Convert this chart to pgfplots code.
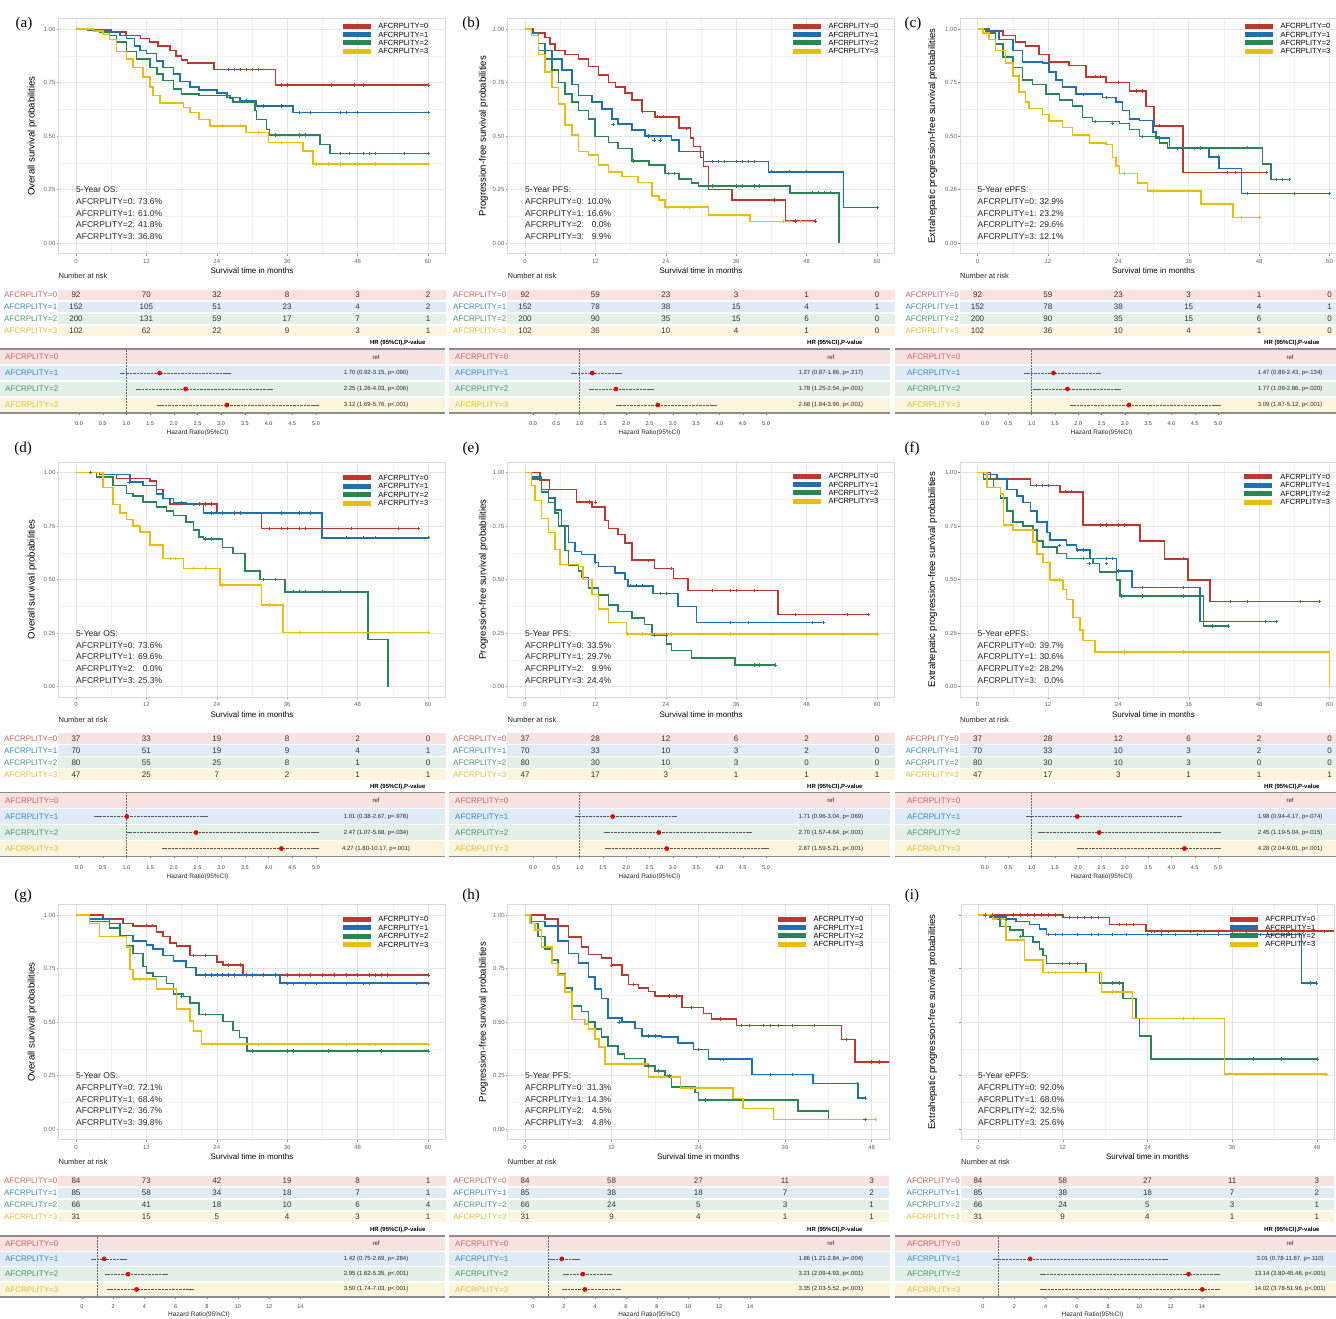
\documentclass[border=0pt]{standalone}
\usepackage{pgfplots}
\pgfplotsset{compat=1.18}
\usepackage{fontspec}
\setmainfont{Liberation Sans}
\newfontfamily\seriffont{Liberation Serif}

\definecolor{cR}{RGB}{190,55,45}
\definecolor{cB}{RGB}{30,112,178}
\definecolor{cG}{RGB}{42,133,84}
\definecolor{cY}{RGB}{232,190,10}
\definecolor{bR}{RGB}{249,226,226}
\definecolor{bB}{RGB}{223,235,245}
\definecolor{bG}{RGB}{227,239,231}
\definecolor{bY}{RGB}{252,245,221}
\definecolor{lR}{RGB}{205,95,95}
\definecolor{lB}{RGB}{55,135,190}
\definecolor{lG}{RGB}{70,148,112}
\definecolor{lY}{RGB}{228,188,45}

\pgfplotsset{
 km/.style={
   scale only axis, anchor=south west, height=235.4pt, width=387.2pt,
   xmin=-3, xmax=63, ymin=-0.05, ymax=1.05,
   xtick={0,12,24,36,48,60}, minor xtick={6,18,30,42,54},
   ytick={0,0.25,0.5,0.75,1}, yticklabels={0.00,0.25,0.50,0.75,1.00},
   minor ytick={0.125,0.375,0.625,0.875},
   grid=both, major grid style={black!10, line width=0.45pt}, minor grid style={black!5, line width=0.3pt},
   axis line style={black!15, line width=0.5pt},
   tick align=outside, major tick length=1.8pt, minor tick length=0pt,
   tick style={black!45, line width=0.4pt},
   xtick pos=bottom, ytick pos=left,
   ticklabel style={font=\fontsize{6}{6}\selectfont, text=black!60},
   yticklabel style={inner sep=1pt},
   /pgf/number format/assume math mode=true,
   xlabel={Survival time in months},
   xlabel style={font=\fontsize{8}{8}\selectfont, at={(axis description cs:0.5,0)}, anchor=center, yshift=-17pt},
   ylabel style={font=\fontsize{9.6}{9.6}\selectfont, anchor=center},
   legend cell align=left,
   legend style={draw=none, fill=none, font=\fontsize{7.5}{7.5}\selectfont, inner sep=0pt, row sep=1.2pt,
      nodes={inner sep=0.6pt, text height=5.5pt, text depth=0.5pt}, anchor=north west},
   legend image code/.code={\draw[##1, line width=5pt] (0pt,0pt) -- (28pt,0pt); \path (34.4pt,0pt);},
 },
 risk/.style={scale only axis, anchor=north west, height=48pt, ymin=-0.5, ymax=3.5, xtick=\empty, ytick={0,1,2,3},
   yticklabels={{\textcolor{lY}{AFCRPLITY=3}},{\textcolor{lG}{AFCRPLITY=2}},{\textcolor{lB}{AFCRPLITY=1}},{\textcolor{lR}{AFCRPLITY=0}}},
   axis line style={draw=none}, major tick length=0pt, tick style={draw=none},
   yticklabel style={font=\fontsize{8}{8}\selectfont, inner sep=1pt},
   clip=false, title={Number at risk},
   title style={at={(rel axis cs:0,1)}, anchor=south west, inner sep=0pt, yshift=4pt, font=\fontsize{7.5}{7.5}\selectfont, text=black!85}},
 forest/.style={scale only axis, anchor=north west, height=64pt, ymin=-0.5, ymax=3.5, ytick=\empty,
   axis line style={draw=none}, tick align=outside, xtick pos=bottom, major tick length=1.5pt,
   tick style={black!50, line width=0.4pt},
   xticklabel style={font=\fontsize{5.5}{5.5}\selectfont, text=black!75, yshift=-4pt},
   clip=false, /pgf/number format/assume math mode=true},
 fa/.style={xtick={0,0.5,1,1.5,2,2.5,3,3.5,4,4.5,5},
   xticklabel style={/pgf/number format/fixed, /pgf/number format/fixed zerofill, /pgf/number format/precision=1}},
 fb/.style={xtick={0,2,4,6,8,10,12,14}, height=61pt, xticklabel style={yshift=1.5pt}},
}

\newcommand{\kl}[2]{\addplot[const plot, #1, line width=1.6pt] coordinates {#2};}
\newcommand{\cz}[2]{\addplot[only marks, mark=+, mark size=1.7pt, line width=0.55pt, #1, forget plot] coordinates {#2};}
\newcommand{\annot}[5]{\node[anchor=north west, inner sep=0pt, align=left, font=\fontsize{8.5}{11.7}\selectfont, text=black!85] at (axis cs:0,0.263) {#1\\AFCRPLITY=0: #2\\AFCRPLITY=1: #3\\AFCRPLITY=2: #4\\AFCRPLITY=3: #5};}
\newcommand{\legs}{\addlegendentry{AFCRPLITY=0}\addlegendentry{AFCRPLITY=1}\addlegendentry{AFCRPLITY=2}\addlegendentry{AFCRPLITY=3}}

\newcommand{\risk}[6]{%
\begin{axis}[risk, at={(#1pt,-#2pt)}, width=#3pt, xmin=#4, xmax=#5]
\fill[bR] (rel axis cs:0,0.7625) rectangle (rel axis cs:1,0.9875);
\fill[bB] (rel axis cs:0,0.5125) rectangle (rel axis cs:1,0.7375);
\fill[bG] (rel axis cs:0,0.2625) rectangle (rel axis cs:1,0.4875);
\fill[bY] (rel axis cs:0,0.0125) rectangle (rel axis cs:1,0.2375);
\addplot[only marks, mark size=0pt, mark options={draw=none,fill=none}, nodes near coords, point meta=explicit symbolic,
  nodes near coords align={anchor=center}, every node near coord/.append style={font=\fontsize{8}{8}\selectfont, text=black!80, inner sep=0pt}]
  table[row sep=\\, meta=n] {x y n\\ #6};
\end{axis}}

\newcommand{\fframe}[1]{%
\fill[bR] (rel axis cs:0,0.7625) rectangle (rel axis cs:1,0.9875);
\fill[bB] (rel axis cs:0,0.5125) rectangle (rel axis cs:1,0.7375);
\fill[bG] (rel axis cs:0,0.2625) rectangle (rel axis cs:1,0.4875);
\fill[bY] (rel axis cs:0,0.0125) rectangle (rel axis cs:1,0.2375);
\draw[black!45, line width=1.1pt] (rel axis cs:0,1) -- (rel axis cs:1,1);
\draw[black!45, line width=1.1pt] (rel axis cs:0,0) -- (rel axis cs:1,0);
\draw[black!60, densely dotted, line width=0.5pt] (axis cs:1,-0.5) -- (axis cs:1,3.5);
\node[anchor=west, text=lR, font=\fontsize{8}{8}\selectfont, inner sep=0pt] at (rel axis cs:#1,0.875) {AFCRPLITY=0};
\node[anchor=west, text=lB, font=\fontsize{8}{8}\selectfont, inner sep=0pt] at (rel axis cs:#1,0.625) {AFCRPLITY=1};
\node[anchor=west, text=lG, font=\fontsize{8}{8}\selectfont, inner sep=0pt] at (rel axis cs:#1,0.375) {AFCRPLITY=2};
\node[anchor=west, text=lY, font=\fontsize{8}{8}\selectfont, inner sep=0pt] at (rel axis cs:#1,0.125) {AFCRPLITY=3};}

\newcommand{\hrtxt}[5]{%
\node[font=\fontsize{6}{6}\selectfont, text=black!85] at (rel axis cs:#1,0.875) {ref};
\node[font=\fontsize{6}{6}\selectfont, text=black!85] at (rel axis cs:#1,0.625) {#3};
\node[font=\fontsize{6}{6}\selectfont, text=black!85] at (rel axis cs:#1,0.375) {#4};
\node[font=\fontsize{6}{6}\selectfont, text=black!85] at (rel axis cs:#1,0.125) {#5};
\node[font=\bfseries\fontsize{6}{6}\selectfont, anchor=base, inner sep=0pt, yshift=4.5pt] at (rel axis cs:#2,1) {HR (95\%CI),P-value};}

\newcommand{\hrplot}[1]{\addplot[only marks, mark=*, mark size=2.1pt, color=red!85!black, error bars/.cd, x dir=both, x explicit,
  error bar style={densely dotted, black!65, line width=0.55pt}, error mark options={solid, black!65, mark size=2.6pt, line width=0.55pt}] coordinates {#1};}

\newcommand{\hrlab}[2]{\node[font=\fontsize{6.5}{6.5}\selectfont, text=black!85, yshift=#2pt] at (axis cs:#1,-0.5) {Hazard Ratio(95\%CI)};}

\begin{document}
\begin{tikzpicture}
\useasboundingbox (0pt,0pt) rectangle (1336pt,-1319pt);

% panel labels
\node[font=\seriffont\fontsize{15}{15}\selectfont, anchor=base] at (24pt,-28pt) {(a)};
\node[font=\seriffont\fontsize{15}{15}\selectfont, anchor=base] at (471pt,-28pt) {(b)};
\node[font=\seriffont\fontsize{15}{15}\selectfont, anchor=base] at (913pt,-28pt) {(c)};
\node[font=\seriffont\fontsize{15}{15}\selectfont, anchor=base] at (23pt,-452pt) {(d)};
\node[font=\seriffont\fontsize{15}{15}\selectfont, anchor=base] at (471pt,-452pt) {(e)};
\node[font=\seriffont\fontsize{15}{15}\selectfont, anchor=base] at (912pt,-452pt) {(f)};
\node[font=\seriffont\fontsize{15}{15}\selectfont, anchor=base] at (23pt,-899pt) {(g)};
\node[font=\seriffont\fontsize{15}{15}\selectfont, anchor=base] at (471pt,-899pt) {(h)};
\node[font=\seriffont\fontsize{15}{15}\selectfont, anchor=base] at (912pt,-899pt) {(i)};

%================ (a) ================
\begin{axis}[km, at={(58.4pt,-253.7pt)}, ylabel={Overall survival probabilities}, ylabel style={at={(axis description cs:-0.068,0.5)}}, legend style={at={(0.727,0.983)}}]
\kl{cR}{(0,1)(3,0.995)(6,0.985)(8.5,0.97)(11,0.955)(12.5,0.94)(14,0.92)(16,0.90)(17,0.875)(18,0.855)(19,0.84)(23.5,0.81)(34,0.738)(60,0.738)}
\kl{cB}{(0,1)(3,0.995)(5.7,0.985)(7.5,0.97)(8.6,0.955)(10,0.92)(10.9,0.90)(12,0.885)(13.7,0.85)(14.8,0.82)(16.6,0.79)(17.7,0.755)(19.4,0.73)(21,0.715)(24,0.70)(25.7,0.68)(28,0.665)(30.8,0.64)(37,0.61)(60,0.61)}
\kl{cG}{(0,1)(2,0.995)(4,0.985)(5.7,0.97)(6.9,0.94)(8.6,0.895)(10.3,0.86)(12.6,0.82)(13.8,0.79)(14.8,0.76)(16.6,0.72)(18,0.695)(21,0.69)(26.2,0.676)(26.8,0.66)(30.5,0.62)(30.8,0.578)(32.5,0.53)(33,0.505)(41.6,0.46)(43.3,0.419)(60,0.419)}
\kl{cY}{(0,1)(3,0.99)(4.6,0.975)(5.7,0.95)(6.9,0.895)(8.6,0.86)(9.7,0.82)(11.4,0.775)(12.6,0.73)(13.1,0.69)(14.3,0.653)(18.3,0.634)(19.4,0.61)(21,0.578)(22.8,0.548)(29,0.516)(32.8,0.469)(38.7,0.43)(40.4,0.37)(60,0.37)}
\legs
\cz{cR}{(26,0.81)(27,0.81)(28,0.81)(29,0.81)(30,0.81)(31,0.81)(35,0.738)(36,0.738)(43.5,0.738)(47.5,0.738)(49,0.738)(60,0.738)}
\cz{cB}{(29,0.665)(32,0.64)(35,0.64)(38,0.61)(40,0.61)(45,0.61)(46,0.61)(48,0.61)(60,0.61)}
\cz{cG}{(34,0.505)(38,0.505)(39,0.505)(45,0.419)(46.5,0.419)(49,0.419)(50,0.419)(51,0.419)(56,0.419)(60,0.419)}
\cz{cY}{(25,0.548)(28,0.548)(31,0.516)(35,0.469)(41,0.37)(43,0.37)(45,0.37)(48,0.37)(51,0.37)(60,0.37)}
\annot{5-Year OS:}{73.6\%}{61.0\%}{41.8\%}{36.8\%}
\end{axis}
\risk{58.4}{289}{387.2}{-3}{63}{0 3 92\\12 3 70\\24 3 32\\36 3 8\\48 3 3\\60 3 2\\0 2 152\\12 2 105\\24 2 51\\36 2 23\\48 2 4\\60 2 2\\0 1 200\\12 1 131\\24 1 59\\36 1 17\\48 1 7\\60 1 1\\0 0 102\\12 0 62\\24 0 22\\36 0 9\\48 0 3\\60 0 1\\}
\begin{axis}[forest, fa, at={(0pt,-349pt)}, width=445pt, xmin=-1.667, xmax=7.722]
\fframe{0.011}
\hrplot{(1.70,2) += (1.45,0) -= (0.78,0) (2.25,1) += (1.78,0) -= (0.99,0) (3.12,0) += (1.88,0) -= (1.43,0)}
\hrtxt{0.845}{0.894}{1.70 (0.92-3.15, p=.090)}{2.25 (1.26-4.03, p=.006)}{3.12 (1.69-5.76, p<.001)}
\hrlab{2.5}{-20}
\end{axis}

%================ (b) ================
\begin{axis}[km, at={(507.4pt,-253.7pt)}, ylabel={Progression-free survival probabilities}, ylabel style={at={(axis description cs:-0.062,0.5)}}, legend style={at={(0.730,0.983)}}]
\kl{cR}{(0,1)(1.4,0.98)(3.4,0.96)(4.3,0.93)(5.1,0.90)(6.8,0.88)(9.1,0.86)(10.8,0.824)(12.5,0.785)(14.2,0.75)(15.4,0.73)(17,0.70)(18.2,0.668)(19.9,0.614)(22.2,0.59)(26.2,0.536)(28.2,0.49)(28.7,0.45)(29.9,0.40)(30.4,0.357)(31.3,0.25)(35.3,0.20)(44.4,0.103)(49.5,0.103)}
\kl{cB}{(0,1)(1.1,0.98)(2.3,0.933)(3.4,0.90)(4.6,0.86)(6.3,0.808)(8,0.74)(9.1,0.69)(11.4,0.66)(13.1,0.625)(14.8,0.58)(15.9,0.555)(18.2,0.528)(20.5,0.50)(25,0.481)(26.2,0.427)(30.4,0.38)(41.5,0.333)(54.3,0.166)(60,0.166)}
\kl{cG}{(0,1)(1.1,0.97)(2.3,0.90)(3.4,0.86)(4.6,0.808)(5.7,0.75)(6.8,0.695)(8,0.66)(9.1,0.62)(10.8,0.58)(11.9,0.497)(14.2,0.47)(15.9,0.442)(18.2,0.383)(21.1,0.364)(23.9,0.325)(26.2,0.30)(28.4,0.28)(29.6,0.266)(45.2,0.235)(53.5,0)}
\kl{cY}{(0,1)(1.1,0.97)(2.3,0.88)(3.4,0.80)(4.6,0.727)(5.7,0.65)(6.8,0.55)(8,0.505)(9.1,0.427)(10.8,0.41)(12.5,0.364)(14.2,0.333)(16.5,0.31)(19.3,0.282)(21.6,0.22)(22.8,0.20)(23.9,0.167)(31.3,0.131)(38.4,0.10)(49.5,0.10)}
\legs
\cz{cR}{(20,0.614)(22.5,0.59)(23.5,0.59)(27.5,0.536)(42.5,0.2)(46,0.103)(49.5,0.103)}
\cz{cB}{(15,0.555)(21,0.50)(22,0.481)(23,0.481)(32,0.38)(33,0.38)(34,0.38)(36,0.38)(37,0.38)(38,0.38)(39,0.38)(42,0.333)(45,0.333)(48,0.333)(60,0.166)}
\cz{cG}{(18.5,0.383)(24.5,0.325)(25.5,0.325)(32,0.266)(36,0.266)(37,0.266)(39,0.266)(40,0.266)(49,0.235)(50,0.235)(51,0.235)(52,0.235)}
\cz{cY}{(24.5,0.167)(27,0.167)(28,0.167)(44,0.10)(45,0.10)(47,0.10)}
\annot{5-Year PFS:}{10.0\%}{16.6\%}{\phantom{0}0.0\%}{\phantom{0}9.9\%}
\end{axis}
\risk{507.4}{289}{387.2}{-3}{63}{0 3 92\\12 3 59\\24 3 23\\36 3 3\\48 3 1\\60 3 0\\0 2 152\\12 2 78\\24 2 38\\36 2 15\\48 2 4\\60 2 1\\0 1 200\\12 1 90\\24 1 35\\36 1 15\\48 1 6\\60 1 0\\0 0 102\\12 0 36\\24 0 10\\36 0 4\\48 0 1\\60 0 0\\}
\begin{axis}[forest, fa, at={(449pt,-349pt)}, width=441pt, xmin=-1.803, xmax=7.661]
\fframe{0.0136}
\hrplot{(1.27,2) += (0.59,0) -= (0.40,0) (1.78,1) += (0.76,0) -= (0.53,0) (2.68,0) += (1.22,0) -= (0.84,0)}
\hrtxt{0.866}{0.875}{1.27 (0.87-1.86, p=.217)}{1.78 (1.25-2.54, p=.001)}{2.68 (1.84-3.90, p<.001)}
\hrlab{2.5}{-20}
\end{axis}

%================ (c) ================
\begin{axis}[km, at={(959.9pt,-253.7pt)}, ylabel={Extrahepatic progression-free survival probabilities}, ylabel style={at={(axis description cs:-0.0702,0.5)}}, legend style={at={(0.7286,0.983)}}]
\kl{cR}{(0,1)(2,0.99)(4.3,0.97)(6.5,0.94)(8.2,0.92)(10.5,0.88)(12.2,0.847)(15.6,0.83)(18.5,0.777)(21.9,0.75)(25.9,0.71)(28.7,0.637)(30.1,0.548)(35,0.329)(49.2,0.329)}
\kl{cB}{(0,1)(1.4,0.99)(3.7,0.95)(6,0.90)(7.7,0.847)(11.1,0.84)(12.2,0.80)(13.4,0.762)(14.5,0.73)(16.8,0.695)(21.3,0.68)(23.6,0.66)(24.7,0.62)(25.9,0.58)(27.6,0.572)(29.9,0.52)(30.4,0.49)(32.7,0.442)(39.5,0.403)(41.2,0.349)(45,0.232)(60,0.232)}
\kl{cG}{(0,1)(1.4,0.98)(3.1,0.93)(4.3,0.87)(6,0.82)(7.7,0.762)(9.4,0.74)(11.7,0.695)(14,0.668)(16.2,0.64)(17.9,0.587)(19.6,0.567)(24.2,0.559)(25.9,0.53)(27.6,0.497)(31,0.466)(32.4,0.445)(48.6,0.369)(50,0.297)(53.2,0.297)}
\kl{cY}{(0,1)(0.9,0.98)(2,0.95)(3.1,0.90)(4.8,0.84)(6,0.78)(7.1,0.707)(8.2,0.66)(8.8,0.629)(11.1,0.60)(12.2,0.57)(14.5,0.54)(16.2,0.505)(19.1,0.466)(21.9,0.46)(23,0.40)(23.6,0.36)(24.2,0.325)(27.3,0.28)(29,0.243)(38.1,0.182)(43.5,0.12)(48.1,0.12)}
\legs
\cz{cR}{(20,0.777)(21,0.777)(24,0.75)(27,0.71)(28,0.71)(31,0.548)(42.5,0.329)(44,0.329)(49.2,0.329)}
\cz{cB}{(12,0.84)(18,0.695)(22,0.68)(34,0.442)(35,0.442)(37,0.442)(38,0.442)(41,0.403)(46,0.232)(54,0.232)(60,0.232)}
\cz{cG}{(20,0.567)(23,0.559)(28,0.497)(38,0.445)(46,0.445)(51,0.297)(52,0.297)(53.2,0.297)}
\cz{cY}{(25,0.325)(30,0.243)(45,0.12)(48.1,0.12)}
\annot{5-Year ePFS:}{32.9\%}{23.2\%}{29.6\%}{12.1\%}
\end{axis}
\risk{959.9}{289}{387.2}{-3}{63}{0 3 92\\12 3 59\\24 3 23\\36 3 3\\48 3 1\\60 3 0\\0 2 152\\12 2 78\\24 2 38\\36 2 15\\48 2 4\\60 2 1\\0 1 200\\12 1 90\\24 1 35\\36 1 15\\48 1 6\\60 1 0\\0 0 102\\12 0 36\\24 0 10\\36 0 4\\48 0 1\\60 0 0\\}
\begin{axis}[forest, fa, at={(895pt,-349pt)}, width=441pt, xmin=-1.931, xmax=7.532]
\fframe{0.027}
\hrplot{(1.47,2) += (0.96,0) -= (0.58,0) (1.77,1) += (1.09,0) -= (0.68,0) (3.09,0) += (1.91,0) -= (1.22,0)}
\hrtxt{0.896}{0.900}{1.47 (0.89-2.43, p=.134)}{1.77 (1.09-2.86, p=.020)}{3.09 (1.87-5.12, p<.001)}
\hrlab{2.5}{-20}
\end{axis}

%================ (d) ================
\begin{axis}[km, at={(58.4pt,-697.2pt)}, ylabel={Overall survival probabilities}, ylabel style={at={(axis description cs:-0.068,0.5)}}, legend style={at={(0.727,0.948)}}]
\kl{cR}{(0,1)(4,0.99)(6.9,0.972)(12.6,0.96)(13.7,0.92)(14.8,0.879)(16,0.852)(24,0.81)(31.6,0.739)(58.4,0.739)}
\kl{cB}{(0,1)(4.6,0.99)(9.2,0.956)(11.4,0.94)(13.7,0.90)(14.8,0.879)(16.6,0.86)(18.8,0.85)(21.7,0.81)(41.9,0.695)(60,0.695)}
\kl{cG}{(0,1)(3.5,0.98)(6.3,0.94)(8.6,0.902)(9.7,0.89)(11.4,0.863)(13.7,0.84)(15.4,0.82)(16.6,0.80)(18.8,0.77)(20,0.73)(21,0.70)(21.7,0.689)(25,0.65)(26.8,0.622)(28.8,0.54)(31.4,0.50)(35.6,0.443)(49.8,0.22)(53.2,0)}
\kl{cY}{(0,1)(4.6,0.93)(6.3,0.85)(7.5,0.81)(8.6,0.78)(9.7,0.75)(10.9,0.723)(12.6,0.661)(14.8,0.599)(18.3,0.552)(24.5,0.474)(31.6,0.381)(35.3,0.253)(60,0.253)}
\legs
\cz{cR}{(21,0.852)(22,0.852)(23,0.852)(25,0.81)(27,0.81)(33,0.739)(35,0.739)(36,0.739)(38,0.739)(39,0.739)(47,0.739)(55,0.739)(58.4,0.739)}
\cz{cB}{(2.5,1)(9,0.956)(18,0.86)(20,0.85)(23,0.81)(25,0.81)(28,0.81)(35,0.81)(38,0.81)(40,0.81)(46,0.695)(49,0.695)(51,0.695)(60,0.695)}
\cz{cG}{(22,0.689)(23,0.689)(32,0.50)(34,0.50)(37,0.443)(38,0.443)(39,0.443)(42,0.443)(45,0.443)}
\cz{cY}{(16,0.599)(17,0.599)(20,0.552)(22,0.552)(25,0.474)(33,0.381)(38,0.253)(60,0.253)}
\annot{5-Year OS:}{73.6\%}{69.6\%}{\phantom{0}0.0\%}{25.3\%}
\end{axis}
\risk{58.4}{732.5}{387.2}{-3}{63}{0 3 37\\12 3 33\\24 3 19\\36 3 8\\48 3 2\\60 3 0\\0 2 70\\12 2 51\\24 2 19\\36 2 9\\48 2 4\\60 2 1\\0 1 80\\12 1 55\\24 1 25\\36 1 8\\48 1 1\\60 1 0\\0 0 47\\12 0 25\\24 0 7\\36 0 2\\48 0 1\\60 0 1\\}
\begin{axis}[forest, fa, at={(0pt,-792.5pt)}, width=445pt, xmin=-1.667, xmax=7.722]
\fframe{0.011}
\hrplot{(1.01,2) += (1.66,0) -= (0.63,0) (2.47,1) += (2.53,0) -= (1.40,0) (4.27,0) += (0.73,0) -= (2.47,0)}
\hrtxt{0.845}{0.894}{1.01 (0.38-2.67, p=.978)}{2.47 (1.07-5.68, p=.034)}{4.27 (1.80-10.17, p=.001)}
\hrlab{2.5}{-20}
\end{axis}

%================ (e) ================
\begin{axis}[km, at={(507.4pt,-697.2pt)}, ylabel={Progression-free survival probabilities}, ylabel style={at={(axis description cs:-0.062,0.5)}}, legend style={at={(0.730,0.955)}}]
\kl{cR}{(0,1)(2.6,0.964)(4.2,0.92)(8.8,0.862)(11.4,0.84)(13.6,0.776)(14.2,0.738)(15.9,0.71)(17,0.67)(18.2,0.59)(22.1,0.552)(25.3,0.505)(27.8,0.448)(43.1,0.336)(58.5,0.336)}
\kl{cB}{(0,1)(1.1,0.98)(2.8,0.92)(4,0.88)(5.1,0.824)(6.2,0.75)(7.4,0.672)(8.5,0.63)(9.6,0.617)(11.9,0.58)(12.5,0.56)(15.3,0.53)(17,0.50)(17.6,0.471)(21.8,0.435)(26.1,0.373)(29.2,0.30)(50.8,0.30)}
\kl{cG}{(0,1)(1.1,0.97)(2.8,0.91)(4,0.86)(5.1,0.81)(5.7,0.75)(6.8,0.636)(7.4,0.566)(9.1,0.54)(9.6,0.51)(10.8,0.459)(12.5,0.428)(14.2,0.381)(15.9,0.35)(18.2,0.32)(20.4,0.29)(21.6,0.241)(24.1,0.20)(25,0.168)(28.4,0.132)(35.8,0.10)(42.6,0.10)}
\kl{cY}{(0,1)(1.1,0.94)(1.7,0.87)(2.8,0.785)(4,0.72)(5.1,0.64)(6,0.571)(9.1,0.56)(9.9,0.50)(11.4,0.43)(12.5,0.361)(14.2,0.30)(17.3,0.246)(60,0.246)}
\legs
\cz{cR}{(11,0.862)(12,0.862)(21,0.59)(25,0.552)(32,0.448)(35,0.448)(36,0.448)(39,0.448)(46,0.336)(55,0.336)(58.5,0.336)}
\cz{cB}{(12,0.58)(18,0.471)(19,0.471)(20,0.471)(23,0.435)(24,0.435)(35,0.30)(38,0.30)(49,0.30)(50.8,0.30)}
\cz{cG}{(22,0.241)(24,0.241)(39,0.10)(40,0.10)(42.6,0.10)}
\cz{cY}{(17.5,0.246)(20,0.246)(25,0.246)(35,0.246)(60,0.246)}
\annot{5-Year PFS:}{33.5\%}{29.7\%}{\phantom{0}9.9\%}{24.4\%}
\end{axis}
\risk{507.4}{732.5}{387.2}{-3}{63}{0 3 37\\12 3 28\\24 3 12\\36 3 6\\48 3 2\\60 3 0\\0 2 70\\12 2 33\\24 2 10\\36 2 3\\48 2 2\\60 2 0\\0 1 80\\12 1 30\\24 1 10\\36 1 3\\48 1 0\\60 1 0\\0 0 47\\12 0 17\\24 0 3\\36 0 1\\48 0 1\\60 0 1\\}
\begin{axis}[forest, fa, at={(449pt,-792.5pt)}, width=441pt, xmin=-1.803, xmax=7.661]
\fframe{0.0136}
\hrplot{(1.71,2) += (1.33,0) -= (0.75,0) (2.70,1) += (1.94,0) -= (1.13,0) (2.87,0) += (2.13,0) -= (1.28,0)}
\hrtxt{0.866}{0.875}{1.71 (0.96-3.04, p=.069)}{2.70 (1.57-4.64, p<.001)}{2.87 (1.59-5.21, p<.001)}
\hrlab{2.5}{-20}
\end{axis}

%================ (f) ================
\begin{axis}[km, at={(959.9pt,-697.2pt)}, ylabel={Extrahepatic progression-free survival probabilities}, ylabel style={at={(axis description cs:-0.0702,0.5)}}, legend style={at={(0.728,0.952)}}]
\kl{cR}{(0,1)(2.2,0.97)(9,0.94)(14.1,0.91)(18,0.754)(27.7,0.681)(31.9,0.597)(35.9,0.498)(39.6,0.397)(58.3,0.397)}
\kl{cB}{(0,1)(1,0.99)(3.3,0.97)(5,0.92)(6.7,0.89)(7.8,0.86)(9,0.82)(10.1,0.77)(11.8,0.72)(12.4,0.684)(15.2,0.66)(16.9,0.637)(19.2,0.599)(23.7,0.539)(26.3,0.462)(37.9,0.303)(50.9,0.303)}
\kl{cG}{(0,1)(1,0.97)(2.7,0.93)(3.9,0.88)(5,0.82)(6.1,0.77)(7.8,0.75)(9.5,0.73)(10.1,0.68)(11.2,0.653)(13.5,0.622)(15.2,0.599)(19.7,0.575)(20.8,0.536)(23.7,0.498)(24.3,0.423)(38.5,0.283)(42.7,0.283)}
\kl{cY}{(0,1)(1.6,0.93)(3.9,0.90)(4.4,0.754)(6.1,0.73)(9.5,0.676)(10.1,0.62)(11.2,0.58)(12.4,0.498)(14.6,0.454)(15.2,0.407)(16.3,0.322)(17.5,0.264)(18,0.215)(20,0.162)(60,0)}
\legs
\cz{cR}{(10,0.94)(11,0.94)(12,0.94)(15,0.91)(16,0.91)(21,0.754)(22,0.754)(24,0.754)(25,0.754)(35,0.597)(43,0.397)(46,0.397)(55,0.397)(58.3,0.397)}
\cz{cB}{(14,0.66)(17,0.637)(18,0.637)(22,0.599)(23,0.599)(24,0.539)(28,0.462)(35,0.462)(49,0.303)(50.9,0.303)}
\cz{cG}{(18,0.599)(19,0.575)(22,0.575)(24.5,0.423)(28,0.423)(35,0.423)(40,0.283)(42.7,0.283)}
\cz{cY}{(13,0.498)(14,0.498)(25,0.162)(35,0.162)}
\annot{5-Year ePFS:}{39.7\%}{30.6\%}{28.2\%}{\phantom{0}0.0\%}
\end{axis}
\risk{959.9}{732.5}{387.2}{-3}{63}{0 3 37\\12 3 28\\24 3 12\\36 3 6\\48 3 2\\60 3 0\\0 2 70\\12 2 33\\24 2 10\\36 2 3\\48 2 2\\60 2 0\\0 1 80\\12 1 30\\24 1 10\\36 1 3\\48 1 0\\60 1 0\\0 0 47\\12 0 17\\24 0 3\\36 0 1\\48 0 1\\60 0 1\\}
\begin{axis}[forest, fa, at={(895pt,-792.5pt)}, width=441pt, xmin=-1.931, xmax=7.532]
\fframe{0.027}
\hrplot{(1.98,2) += (2.19,0) -= (1.04,0) (2.45,1) += (2.55,0) -= (1.26,0) (4.28,0) += (0.72,0) -= (2.24,0)}
\hrtxt{0.896}{0.900}{1.98 (0.94-4.17, p=.074)}{2.45 (1.19-5.04, p=.015)}{4.28 (2.04-9.01, p<.001)}
\hrlab{2.5}{-20}
\end{axis}

%================ (g) ================
\begin{axis}[km, at={(58.4pt,-1139.7pt)}, ylabel={Overall survival probabilities}, ylabel style={at={(axis description cs:-0.068,0.5)}}, legend style={at={(0.727,0.952)}}]
\kl{cR}{(0,1)(4.6,0.98)(8,0.96)(9.7,0.95)(13.7,0.92)(14.8,0.90)(16,0.87)(17.1,0.855)(19.4,0.81)(24,0.78)(25.1,0.766)(28.5,0.72)(60,0.72)}
\kl{cB}{(0,1)(2.3,0.98)(5.7,0.96)(7.5,0.905)(9.7,0.878)(12,0.86)(13.1,0.84)(14.8,0.81)(16.6,0.785)(18.8,0.754)(20.5,0.72)(34.8,0.681)(60,0.681)}
\kl{cG}{(0,1)(2.3,0.97)(5.7,0.94)(7.5,0.90)(8.6,0.855)(9.7,0.82)(11.4,0.76)(12,0.73)(13.1,0.712)(15.4,0.68)(16.6,0.63)(18.3,0.62)(19.4,0.59)(21,0.536)(25.1,0.503)(26.8,0.46)(27.9,0.427)(29.1,0.364)(60,0.364)}
\kl{cY}{(0,1)(2.3,0.96)(4,0.90)(8.6,0.85)(9.2,0.746)(9.7,0.70)(13.7,0.653)(17.1,0.562)(19.4,0.505)(20,0.458)(21.4,0.396)(60,0.396)}
\legs
\cz{cR}{(12,0.95)(13,0.95)(20,0.81)(22,0.81)(26,0.766)(28,0.766)(29,0.72)(30,0.72)(32,0.72)(36,0.72)(38,0.72)(40,0.72)(42,0.72)(44,0.72)(46,0.72)(48,0.72)(50,0.72)(51,0.72)(52,0.72)(53,0.72)(60,0.72)}
\cz{cB}{(22,0.72)(23,0.72)(24,0.72)(25,0.72)(26,0.72)(27,0.72)(30,0.72)(34,0.72)(36,0.681)(37,0.681)(39,0.681)(41,0.681)(46,0.681)(49,0.681)(50,0.681)(58,0.681)(60,0.681)}
\cz{cG}{(18,0.62)(22,0.536)(30,0.364)(36,0.364)(37,0.364)(43,0.364)(48,0.364)(52,0.364)(60,0.364)}
\cz{cY}{(10,0.70)(11,0.70)(12,0.70)(23,0.396)(24,0.396)(31,0.396)(46,0.396)(50,0.396)(51,0.396)(60,0.396)}
\annot{5-Year OS:}{72.1\%}{68.4\%}{36.7\%}{39.8\%}
\end{axis}
\risk{58.4}{1175}{387.2}{-3}{63}{0 3 84\\12 3 73\\24 3 42\\36 3 19\\48 3 8\\60 3 1\\0 2 85\\12 2 58\\24 2 34\\36 2 18\\48 2 7\\60 2 1\\0 1 66\\12 1 41\\24 1 18\\36 1 10\\48 1 6\\60 1 4\\0 0 31\\12 0 15\\24 0 5\\36 0 4\\48 0 3\\60 0 1\\}
\begin{axis}[forest, fb, at={(0pt,-1236pt)}, width=445pt, xmin=-5.256, xmax=23.27]
\fframe{0.011}
\hrplot{(1.42,2) += (1.27,0) -= (0.67,0) (2.95,1) += (2.40,0) -= (1.33,0) (3.50,0) += (3.53,0) -= (1.76,0)}
\hrtxt{0.845}{0.894}{1.42 (0.75-2.69, p=.284)}{2.95 (1.62-5.35, p<.001)}{3.50 (1.74-7.03, p<.001)}
\hrlab{7.5}{-17.5}
\end{axis}

%================ (h) ================
\begin{axis}[km, at={(507.7pt,-1139.7pt)}, width=381.3pt, xmin=-2.4, xmax=50.4, xtick={0,12,24,36,48}, minor xtick={6,18,30,42},
  ylabel={Progression-free survival probabilities}, ylabel style={at={(axis description cs:-0.064,0.5)}}, legend style={at={(0.701,0.953)}}]
\kl{cR}{(0,1)(2.8,0.98)(4.6,0.95)(6,0.897)(7.8,0.85)(8.8,0.816)(10.6,0.80)(12,0.765)(13.4,0.72)(14.3,0.676)(15.7,0.66)(17.1,0.643)(18,0.621)(21.7,0.567)(24.7,0.54)(25.8,0.515)(29.3,0.484)(43.8,0.419)(45.7,0.313)(50.5,0.313)}
\kl{cB}{(0,1)(0.9,0.97)(2.8,0.95)(4.6,0.878)(6,0.82)(7.4,0.777)(8.8,0.71)(9.7,0.653)(10.6,0.61)(11.5,0.52)(13.4,0.50)(15.2,0.47)(16.2,0.435)(18.9,0.43)(21.2,0.403)(23.3,0.372)(25.4,0.326)(31.4,0.255)(39.9,0.212)(46.1,0.145)(47.1,0.145)}
\kl{cG}{(0,1)(0.9,0.96)(1.8,0.90)(2.8,0.84)(3.7,0.79)(4.6,0.723)(5.5,0.66)(6.5,0.575)(7.8,0.55)(8.8,0.50)(9.7,0.466)(10.6,0.43)(11.5,0.388)(12.9,0.35)(13.8,0.329)(16.6,0.294)(18,0.271)(19.4,0.248)(20.3,0.196)(23.5,0.17)(24,0.136)(37.8,0.084)(42,0.045)(47.1,0.045)}
\kl{cY}{(0,1)(0.7,0.96)(1.4,0.93)(2.3,0.85)(3.7,0.773)(4.6,0.72)(5.5,0.64)(6.5,0.512)(8.3,0.49)(8.8,0.466)(9.7,0.42)(10.2,0.383)(11.1,0.305)(17.1,0.243)(21.5,0.193)(28.8,0.142)(30.2,0.095)(34.4,0.045)(48.5,0.045)}
\legs
\cz{cR}{(12,0.765)(15,0.676)(20,0.621)(21,0.621)(23,0.567)(27,0.515)(30,0.484)(31,0.484)(33,0.484)(34,0.484)(35,0.484)(37,0.484)(40,0.484)(44.5,0.419)(48,0.313)(49,0.313)}
\cz{cB}{(13,0.50)(17,0.435)(18,0.435)(24,0.372)(27,0.326)(27.5,0.326)(34,0.255)(37,0.255)(46,0.212)(47.1,0.145)}
\cz{cG}{(17,0.294)(18.5,0.271)(20,0.248)(25,0.136)(47.1,0.045)}
\cz{cY}{(48.5,0.045)}
\annot{5-Year PFS:}{31.3\%}{14.3\%}{\phantom{0}4.5\%}{\phantom{0}4.8\%}
\end{axis}
\risk{507.7}{1175}{381.3}{-2.4}{50.4}{0 3 84\\12 3 58\\24 3 27\\36 3 11\\48 3 3\\0 2 85\\12 2 38\\24 2 18\\36 2 7\\48 2 2\\0 1 66\\12 1 24\\24 1 5\\36 1 3\\48 1 1\\0 0 31\\12 0 9\\24 0 4\\36 0 1\\48 0 1\\}
\begin{axis}[forest, fb, at={(449pt,-1236pt)}, width=441pt, xmin=-5.419, xmax=23.03]
\fframe{0.0136}
\hrplot{(1.86,2) += (0.98,0) -= (0.65,0) (3.21,1) += (1.72,0) -= (1.12,0) (3.35,0) += (2.17,0) -= (1.32,0)}
\hrtxt{0.866}{0.875}{1.86 (1.21-2.84, p=.004)}{3.21 (2.09-4.93, p<.001)}{3.35 (2.03-5.52, p<.001)}
\hrlab{7.5}{-17.5}
\end{axis}

%================ (i) ================
\begin{axis}[km, at={(961pt,-1139.7pt)}, width=372.9pt, xmin=-2.4, xmax=50.4, xtick={0,12,24,36,48}, minor xtick={6,18,30,42},
  yticklabels={,,,,},
  ylabel={Extrahepatic progression-free survival probabilities}, ylabel style={at={(axis description cs:-0.0759,0.5)}}, legend style={at={(0.713,0.953)}}]
\kl{cR}{(0,1)(12,0.988)(18.6,0.955)(23.8,0.924)(50.5,0.924)}
\kl{cB}{(0,1)(1.7,0.99)(4,0.98)(5.4,0.97)(7.3,0.955)(8.7,0.935)(9.7,0.908)(45.8,0.683)(47.9,0.683)}
\kl{cG}{(0,1)(2.1,0.98)(3.1,0.947)(4.5,0.93)(6.4,0.90)(7.8,0.874)(8.7,0.84)(9.2,0.81)(9.7,0.773)(15.3,0.731)(17.2,0.683)(20.5,0.61)(22.4,0.517)(22.9,0.436)(24.5,0.328)(48.1,0.328)}
\kl{cY}{(0,1)(2.1,0.98)(4,0.882)(6.6,0.789)(9.2,0.731)(17.5,0.641)(21.9,0.517)(34.9,0.256)(49.3,0.256)}
\legs
\cz{cR}{(1,1)(2,1)(5,1)(6,1)(7,1)(8,1)(9,1)(10,1)(11,1)(13,0.988)(14,0.988)(15,0.988)(16,0.988)(17,0.988)(20,0.955)(21,0.955)(22,0.955)(24.5,0.924)(25,0.924)(26,0.924)(27,0.924)(30,0.924)(32,0.924)(34,0.924)(36,0.924)(38,0.924)(41,0.924)(44,0.924)(46,0.924)(49,0.924)}
\cz{cB}{(4,0.98)(10,0.908)(11,0.908)(12,0.908)(14,0.908)(16,0.908)(17,0.908)(19,0.908)(21,0.908)(24,0.908)(26,0.908)(28,0.908)(31,0.908)(34,0.908)(36,0.908)(40,0.908)(47,0.683)(47.9,0.683)}
\cz{cG}{(3,0.98)(6,0.90)(12,0.773)(13,0.773)(14,0.773)(19,0.683)(20,0.683)(39,0.328)(43,0.328)(48.1,0.328)}
\cz{cY}{(10,0.731)(11,0.731)(19,0.641)(29,0.517)(30.5,0.517)(49.3,0.256)}
\annot{5-Year ePFS:}{92.0\%}{68.0\%}{32.5\%}{25.6\%}
\end{axis}
\risk{961}{1175}{372.9}{-2.4}{50.4}{0 3 84\\12 3 58\\24 3 27\\36 3 11\\48 3 3\\0 2 85\\12 2 38\\24 2 18\\36 2 7\\48 2 2\\0 1 66\\12 1 24\\24 1 5\\36 1 3\\48 1 1\\0 0 31\\12 0 9\\24 0 4\\36 0 1\\48 0 1\\}
\begin{axis}[forest, fb, at={(895pt,-1236pt)}, width=441pt, xmin=-5.627, xmax=22.57]
\fframe{0.027}
\hrplot{(3.01,2) += (8.66,0) -= (2.23,0) (13.14,1) += (1.86,0) -= (9.34,0) (14.02,0) += (0.98,0) -= (10.24,0)}
\hrtxt{0.896}{0.900}{3.01 (0.78-11.67, p=.110)}{13.14 (3.80-45.46, p<.001)}{14.02 (3.78-51.96, p<.001)}
\hrlab{7}{-17.5}
\end{axis}

\end{tikzpicture}
\end{document}
